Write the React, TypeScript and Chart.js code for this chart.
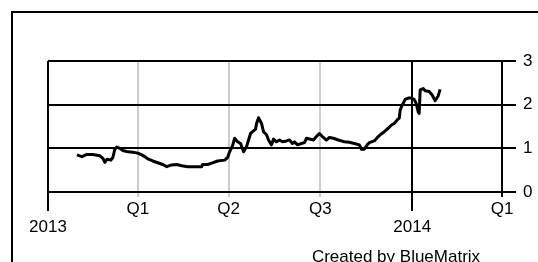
import React, { useEffect, useRef } from "react";
import { Chart, registerables } from "chart.js";

Chart.register(...registerables);

// Days since 2013-01-01 and the plotted value
const DAYS = [
  29, 34, 39, 45, 52, 55, 57, 59, 63, 65, 67, 69, 72, 75, 80, 85, 90, 94, 97, 100,
  105, 110, 115, 119, 124, 129, 134, 140, 147, 154, 155, 160, 164, 170, 177, 180, 182, 185, 187, 190,
  193, 196, 199, 201, 203, 205, 208, 209, 211, 214, 216, 219, 221, 224, 226, 229, 232, 235, 239, 242,
  245, 247, 250, 254, 257, 259, 263, 266, 269, 272, 275, 279, 282, 286, 291, 294, 297, 302, 307, 312,
  314, 317, 320, 322, 327, 331, 334, 337, 341, 344, 347, 350, 352, 353, 355, 358, 361, 364, 367, 369,
  371, 372, 373, 376, 378, 382, 385, 388, 391, 393,
];
const VALUES = [
  0.85, 0.81, 0.86, 0.86, 0.83, 0.77, 0.68, 0.75, 0.73, 0.79, 0.98, 1.03, 1.0, 0.95, 0.92, 0.91, 0.89, 0.85, 0.81, 0.76,
  0.71, 0.67, 0.63, 0.58, 0.62, 0.63, 0.6, 0.58, 0.58, 0.58, 0.63, 0.63, 0.66, 0.71, 0.73, 0.79, 0.92, 1.06, 1.23, 1.15,
  1.11, 0.92, 1.04, 1.19, 1.34, 1.38, 1.44, 1.57, 1.7, 1.57, 1.38, 1.31, 1.19, 1.08, 1.21, 1.15, 1.19, 1.15, 1.17, 1.19,
  1.11, 1.15, 1.08, 1.11, 1.13, 1.23, 1.21, 1.19, 1.27, 1.34, 1.27, 1.19, 1.25, 1.23, 1.19, 1.17, 1.15, 1.14, 1.11, 1.08,
  0.98, 0.98, 1.08, 1.13, 1.17, 1.27, 1.33, 1.38, 1.46, 1.53, 1.57, 1.65, 1.69, 1.88, 1.99, 2.12, 2.15, 2.15, 2.12, 2.03,
  1.84, 1.8, 2.34, 2.37, 2.32, 2.3, 2.22, 2.09, 2.2, 2.35,
];

const X_MIN = 0;
const X_MAX = 455;
const QUARTER_TICKS = [0, 90, 181, 273, 365, 455];
const QUARTER_LABELS = ["", "Q1", "Q2", "Q3", "", "Q1"];
const BLACK_X_TICKS = [0, 365, 455];
const YEAR_TICKS = [0, 365];
const YEAR_LABELS = ["2013", "2014"];
const Y_TICKS = [0, 1, 2, 3];
const FOOTER = "Created by BlueMatrix";

const FONT = { family: "'Liberation Sans', Arial, sans-serif", size: 17 };

export default function App() {
  const ref = useRef<HTMLCanvasElement | null>(null);

  useEffect(() => {
    if (!ref.current) return;
    const framePlugin = {
      id: "frame",
      beforeDraw(chart: any) {
        const ctx = chart.ctx;
        ctx.save();
        ctx.fillStyle = "#000";
        ctx.fillRect(11, 11, 2, 262);
        ctx.fillRect(11, 11, 540, 2);
        ctx.restore();
      },
      afterDraw(chart: any) {
        const ctx = chart.ctx;
        ctx.save();
        ctx.fillStyle = "#000";
        ctx.font = `${FONT.size}px ${FONT.family}`;
        ctx.textAlign = "center";
        ctx.textBaseline = "alphabetic";
        ctx.fillText(FOOTER, 396, 262);
        ctx.restore();
      },
    };

    const chart = new Chart(ref.current, {
      type: "line",
      data: {
        datasets: [
          {
            data: DAYS.map((d, i) => ({ x: d, y: VALUES[i] })),
            borderColor: "#000",
            borderWidth: 3,
            pointRadius: 0,
            fill: false,
            tension: 0,
            borderJoinStyle: "round",
            xAxisID: "x",
            yAxisID: "y",
          },
        ],
      },
      options: {
        animation: false,
        responsive: false,
        devicePixelRatio: 1,
        layout: { padding: { left: 48, top: 61, right: 0, bottom: 44 } },
        plugins: { legend: { display: false }, tooltip: { enabled: false }, title: { display: false } },
        scales: {
          x: {
            type: "linear",
            position: "bottom",
            min: X_MIN,
            max: X_MAX,
            afterBuildTicks: (s: any) => {
              s.ticks = QUARTER_TICKS.map((v) => ({ value: v }));
            },
            afterFit: (s: any) => {
              s.height = 26;
            },
            ticks: {
              autoSkip: false,
              maxRotation: 0,
              padding: 2,
              color: "#000",
              font: FONT,
              callback: (v: any) => {
                const i = QUARTER_TICKS.indexOf(Number(v));
                return i >= 0 ? QUARTER_LABELS[i] : "";
              },
            },
            grid: {
              color: (c: any) => (c.tick && BLACK_X_TICKS.includes(c.tick.value) ? "#000" : "#cccccc"),
              tickColor: (c: any) => (c.tick && BLACK_X_TICKS.includes(c.tick.value) ? "#000" : "#cccccc"),
              lineWidth: 2,
              tickWidth: 2,
              tickLength: 5,
            },
            border: { display: true, color: "#000", width: 2 },
          },
          x2: {
            type: "linear",
            axis: "x",
            position: { y: 0 },
            min: X_MIN,
            max: X_MAX,
            afterBuildTicks: (s: any) => {
              s.ticks = YEAR_TICKS.map((v) => ({ value: v }));
            },
            ticks: {
              autoSkip: false,
              maxRotation: 0,
              padding: 6,
              color: "#000",
              font: FONT,
              callback: (v: any) => {
                const i = YEAR_TICKS.indexOf(Number(v));
                return i >= 0 ? YEAR_LABELS[i] : "";
              },
            },
            grid: {
              drawOnChartArea: false,
              color: "#000",
              tickColor: "#000",
              lineWidth: 2,
              tickWidth: 2,
              tickLength: 19,
            },
            border: { display: false },
          },
          y: {
            type: "linear",
            position: "right",
            min: 0,
            max: 3,
            afterBuildTicks: (s: any) => {
              s.ticks = Y_TICKS.map((v) => ({ value: v }));
            },
            afterFit: (s: any) => {
              s.width = 36;
            },
            ticks: {
              padding: 7,
              color: "#000",
              font: FONT,
              callback: (v: any) => String(v),
            },
            grid: {
              color: "#000",
              tickColor: "#000",
              lineWidth: 2,
              tickWidth: 2,
              tickLength: 14,
            },
            border: { display: true, color: "#000", width: 2 },
          },
        },
      } as any,
      plugins: [framePlugin],
    });
    return () => chart.destroy();
  }, []);

  return (
    <div style={{ position: "fixed", left: 0, top: 0, width: 538, height: 262, background: "#fff" }}>
      <canvas ref={ref} width={538} height={262} style={{ display: "block" }} />
    </div>
  );
}
